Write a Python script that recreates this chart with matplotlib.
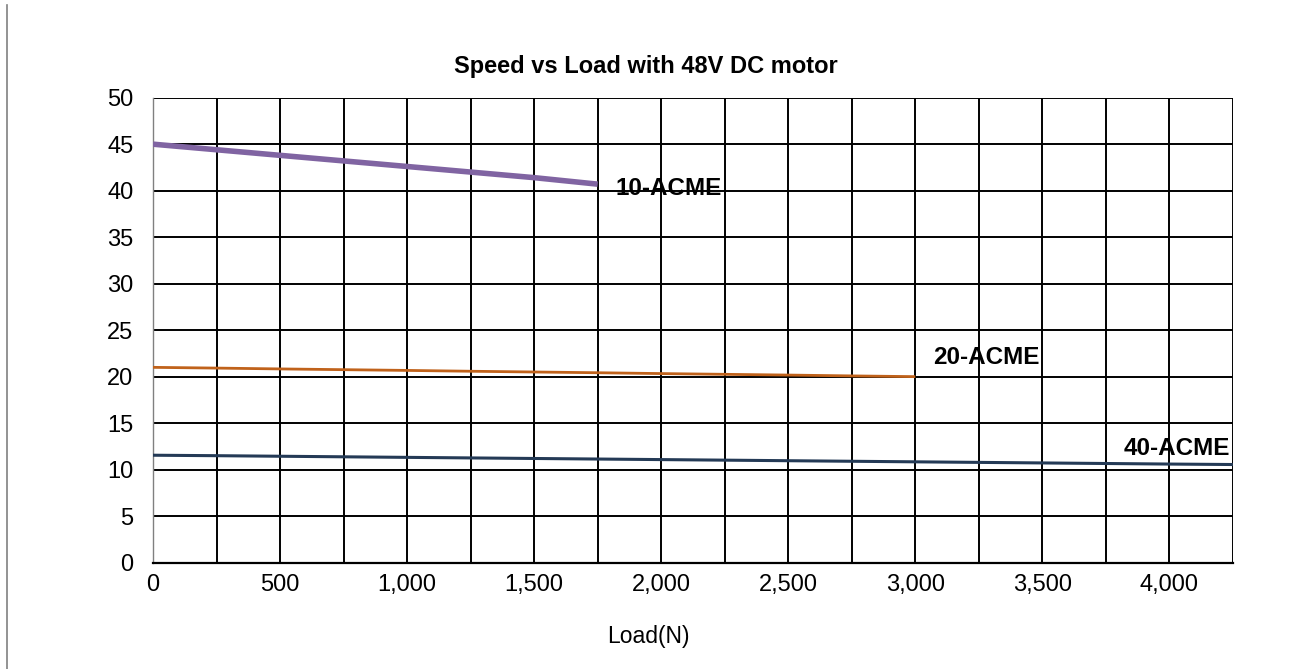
import numpy as np
import matplotlib
matplotlib.use("Agg")
import matplotlib.pyplot as plt
from matplotlib.lines import Line2D
from matplotlib.ticker import FuncFormatter, MultipleLocator

plt.rcParams['font.family'] = ['Liberation Sans', 'DejaVu Sans']

# data
load_10 = [0, 250, 500, 750, 1000, 1250, 1500, 1750]
speed_10 = [45.0, 44.4, 43.8, 43.2, 42.6, 42.0, 41.4, 40.7]
load_20 = [0, 250, 500, 750, 1000, 1250, 1500, 1750, 2000, 2250, 2500, 2750, 3000]
speed_20 = [21.0, 20.92, 20.83, 20.75, 20.67, 20.58, 20.5, 20.42, 20.33, 20.25, 20.17, 20.08, 20.0]
load_40 = [0, 250, 500, 750, 1000, 1250, 1500, 1750, 2000, 2250, 2500, 2750, 3000,
           3250, 3500, 3750, 4000, 4250]
speed_40 = [11.55, 11.5, 11.44, 11.38, 11.32, 11.26, 11.2, 11.14, 11.08, 11.02, 10.96,
            10.9, 10.84, 10.78, 10.72, 10.66, 10.6, 10.55]
series = [("10-ACME", load_10, speed_10, "#8064A2", 4.0, (1820, 40.2)),
          ("20-ACME", load_20, speed_20, "#C0621B", 2.0, (3070, 22.1)),
          ("40-ACME", load_40, speed_40, "#243A56", 2.2, (3820, 12.3))]

fig = plt.figure(figsize=(12.91, 6.69), dpi=100)
ax = fig.add_axes([0.1185, 0.159, 0.8365, 0.695])
for name, x, y, c, lw, (tx, ty) in series:
    ax.plot(x, y, color=c, lw=lw, solid_capstyle="butt", zorder=3)
    ax.text(tx, ty, name, fontsize=17.5, fontweight="bold", va="center", ha="left", zorder=4)

ax.set_xlim(0, 4250); ax.set_ylim(0, 50)
ax.xaxis.set_major_locator(MultipleLocator(500))
ax.xaxis.set_minor_locator(MultipleLocator(250))
ax.yaxis.set_major_locator(MultipleLocator(5))
ax.xaxis.set_major_formatter(FuncFormatter(lambda v, p: f"{int(v):,}"))
ax.grid(True, which="both", color="black", lw=1.4, zorder=1)
ax.tick_params(which="both", length=0, labelsize=17)
ax.tick_params(axis="y", pad=14)
ax.tick_params(axis="x", pad=8)
for s in ax.spines.values():
    s.set_visible(False)
ax.spines["bottom"].set_visible(True); ax.spines["bottom"].set_linewidth(1.6)
ax.spines["left"].set_visible(True); ax.spines["left"].set_color("#808080"); ax.spines["left"].set_linewidth(1.0)

# title and axis label are centred on the figure, not on the plot area
fig.text(0.5, 1 - 67 / 669, "Speed vs Load with 48V DC motor", fontsize=17, fontweight="bold",
         ha="center", va="center")
fig.text(0.502, 1 - 636 / 669, "Load(N)", fontsize=16.5, ha="center", va="center")

fig.add_artist(Line2D([6.5 / 1291, 6.5 / 1291], [0, 1 - 5 / 669], color="#808080", lw=1.2))
fig.savefig("out.png", dpi=100)
